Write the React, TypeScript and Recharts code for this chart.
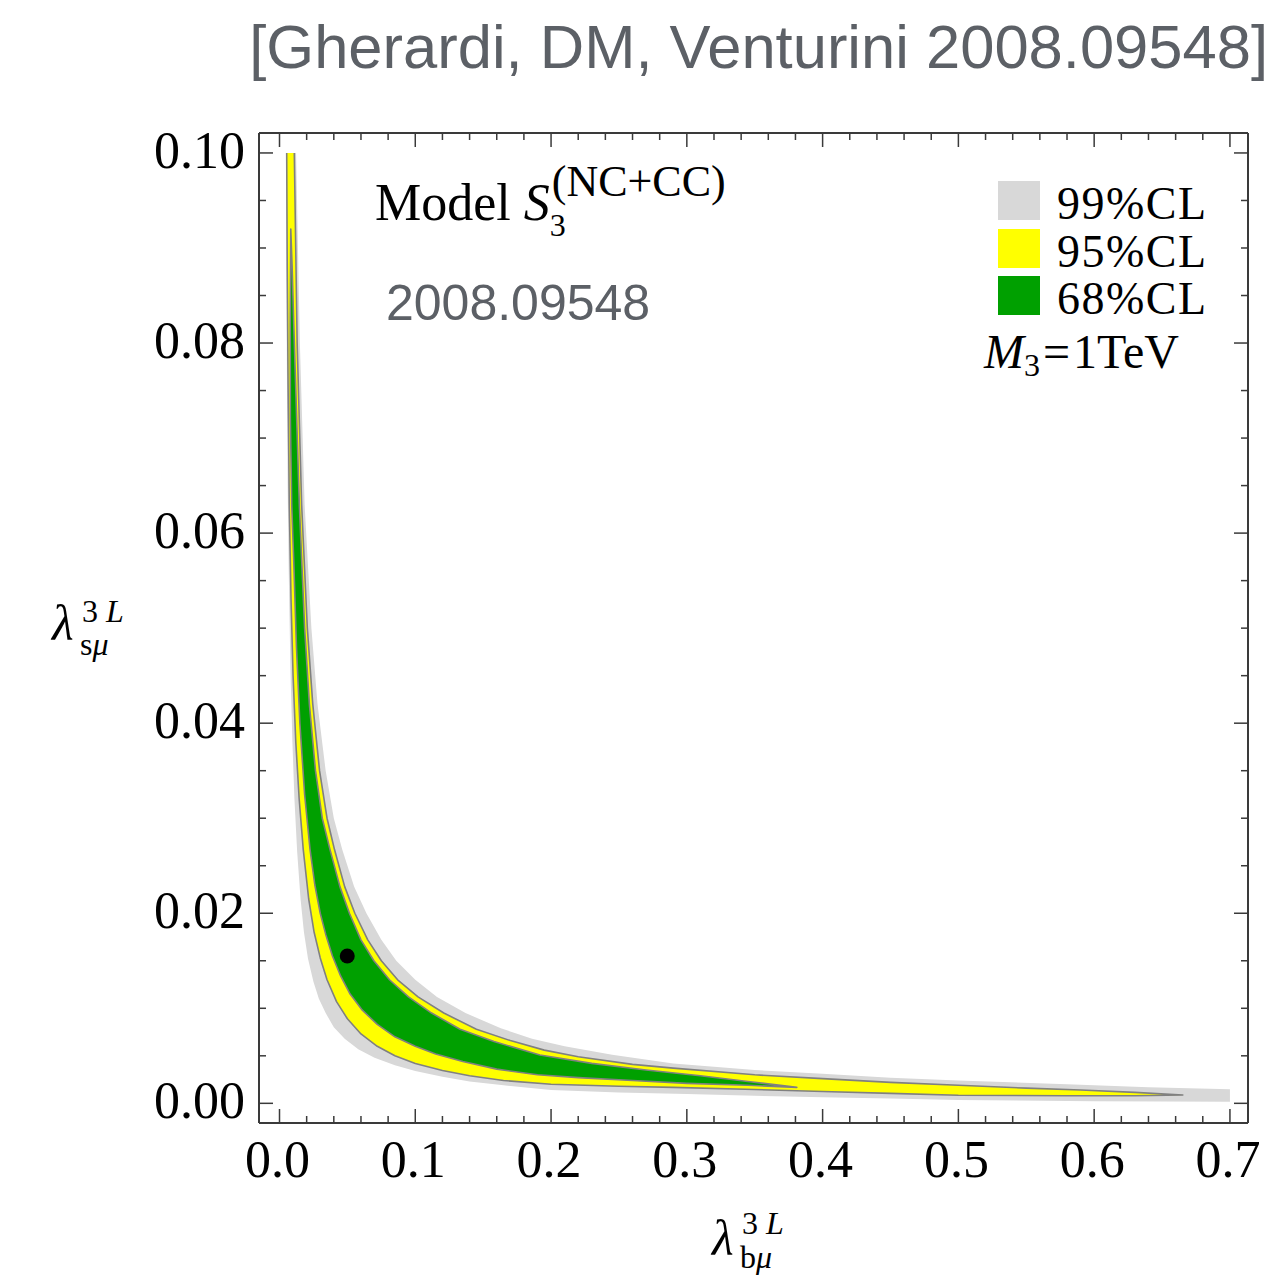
import React from "react";
import { ScatterChart, Scatter, XAxis, YAxis, Legend } from "recharts";

const SERIF = "'Liberation Serif', 'Times New Roman', serif";
const SANS = "'Liberation Sans', Arial, sans-serif";

// axis ticks
const xMajorTicks = [0, 0.1, 0.2, 0.3, 0.4, 0.5, 0.6, 0.7];
const xTicks = [
  0, 0.02, 0.04, 0.06, 0.08, 0.1, 0.12, 0.14, 0.16, 0.18, 0.2, 0.22, 0.24, 0.26, 0.28, 0.3, 0.32, 0.34,
  0.36, 0.38, 0.4, 0.42, 0.44, 0.46, 0.48, 0.5, 0.52, 0.54, 0.56, 0.58, 0.6, 0.62, 0.64, 0.66, 0.68, 0.7,
];
const yMajorTicks = [0, 0.02, 0.04, 0.06, 0.08, 0.1];
const yTicks = [
  0, 0.005, 0.01, 0.015, 0.02, 0.025, 0.03, 0.035, 0.04, 0.045, 0.05, 0.055, 0.06, 0.065, 0.07, 0.075,
  0.08, 0.085, 0.09, 0.095, 0.1,
];

// 99% CL region: outer edge (top -> right end), then inner edge (right end -> top)
const grayOuter = [
  [0.0122, 0.1], [0.015, 0.08], [0.0185, 0.063], [0.0235, 0.05], [0.028, 0.042], [0.034, 0.035],
  [0.04, 0.03], [0.0462, 0.0267], [0.055, 0.0228], [0.064, 0.02], [0.075, 0.0172], [0.086, 0.015],
  [0.1, 0.013], [0.116, 0.0112], [0.137, 0.0095], [0.163, 0.0079], [0.186, 0.0068], [0.21, 0.006],
  [0.245, 0.0051], [0.29, 0.0042], [0.35, 0.0035], [0.4, 0.0031], [0.45, 0.0027], [0.5, 0.0024],
  [0.58, 0.002], [0.64, 0.0017], [0.7, 0.00147],
];
const grayInner = [
  [0.7, 0.00017], [0.6, 0.00022], [0.5, 0.00035], [0.45, 0.0005], [0.4, 0.00065], [0.35, 0.0008],
  [0.3, 0.00098], [0.25, 0.00115], [0.2, 0.0014], [0.165, 0.0019], [0.14, 0.0023], [0.12, 0.0028],
  [0.1, 0.0034], [0.085, 0.004], [0.07, 0.0048], [0.058, 0.0057], [0.048, 0.0068], [0.04, 0.008],
  [0.034, 0.0095], [0.029, 0.011], [0.025, 0.0128], [0.021, 0.0152], [0.018, 0.018], [0.0155, 0.0215],
  [0.013, 0.0265], [0.011, 0.032], [0.0095, 0.038], [0.008, 0.046], [0.0068, 0.056], [0.006, 0.065],
  [0.0054, 0.078], [0.005, 0.09], [0.0048, 0.1],
];

// 95% CL region
const yellowOuter = [
  [0.0109, 0.1], [0.013, 0.08], [0.0163, 0.063], [0.0205, 0.05], [0.0245, 0.042], [0.0295, 0.035],
  [0.035, 0.03], [0.0405, 0.0267], [0.048, 0.0228], [0.0555, 0.02], [0.065, 0.0172], [0.075, 0.015],
  [0.087, 0.013], [0.102, 0.0112], [0.121, 0.0095], [0.145, 0.0078], [0.17, 0.0066], [0.195, 0.0056],
  [0.22, 0.0049], [0.26, 0.0041], [0.29, 0.0037], [0.35, 0.003], [0.4, 0.0026], [0.45, 0.0022],
  [0.5, 0.0019], [0.55, 0.0016], [0.59, 0.0014], [0.63, 0.00115], [0.6653, 0.00087],
];
const yellowInner = [
  [0.63, 0.0008], [0.58, 0.0008], [0.5, 0.00085], [0.45, 0.00105], [0.4, 0.00125], [0.35, 0.00145],
  [0.29, 0.00168], [0.25, 0.0018], [0.2, 0.002], [0.165, 0.0024], [0.14, 0.0029], [0.12, 0.00345],
  [0.1, 0.0042], [0.085, 0.005], [0.072, 0.006], [0.06, 0.0073], [0.05, 0.0089], [0.042, 0.0107],
  [0.035, 0.013], [0.03, 0.0153], [0.0255, 0.018], [0.0215, 0.0215], [0.0175, 0.0267], [0.0145, 0.032],
  [0.012, 0.038], [0.01, 0.045], [0.0085, 0.053], [0.0072, 0.063], [0.0063, 0.076], [0.0057, 0.088],
  [0.0053, 0.1],
];

// 68% CL region
const greenOuter = [
  [0.0083, 0.092], [0.0093, 0.088], [0.0105, 0.082], [0.0146, 0.063], [0.0185, 0.05], [0.022, 0.042],
  [0.0265, 0.035], [0.0315, 0.03], [0.0372, 0.0267], [0.0445, 0.0228], [0.0515, 0.02], [0.06, 0.0172],
  [0.0695, 0.015], [0.081, 0.013], [0.095, 0.0112], [0.112, 0.0095], [0.133, 0.0078], [0.158, 0.0065],
  [0.1918, 0.00508], [0.23, 0.0042], [0.27, 0.0035], [0.31, 0.0029], [0.345, 0.0023], [0.381, 0.00168],
];
const greenInner = [
  [0.345, 0.0019], [0.3, 0.0021], [0.26, 0.0024], [0.22, 0.0027], [0.19, 0.003], [0.16, 0.0036],
  [0.135, 0.0044], [0.115, 0.0052], [0.1, 0.006], [0.085, 0.007], [0.072, 0.0083], [0.061, 0.0098],
  [0.052, 0.0115], [0.045, 0.0134], [0.039, 0.0155], [0.034, 0.0178], [0.03, 0.02], [0.026, 0.023],
  [0.0225, 0.0267], [0.0185, 0.0325], [0.015, 0.04], [0.0125, 0.048], [0.0105, 0.057], [0.009, 0.063],
  [0.008, 0.072], [0.0079, 0.082],
];

const bestFit = [{ x: 0.0499, y: 0.0155 }];

const legendItems = [
  { label: "99%CL", color: "#d8d8d8" },
  { label: "95%CL", color: "#ffff00" },
  { label: "68%CL", color: "#00a000" },
];

const toPoints = (list: number[][]) => list.map(([x, y]) => ({ x, y }));

const grayRegion = toPoints([...grayOuter, ...grayInner]);
const yellowRegion = toPoints([...yellowOuter, ...yellowInner]);
const greenRegion = toPoints([...greenOuter, ...greenInner]);

const noDot = () => <g />;

// draws the scatter "line" as a filled region
const region = (fill: string, stroke: string, close: boolean) => (props: any) => {
  const pts = props.points || [];
  const d = pts.map((p: any, i: number) => `${i ? "L" : "M"}${p.x},${p.y}`).join("") + (close ? "Z" : "");
  return <path d={d} fill={fill} stroke={stroke} strokeWidth={1.6} strokeLinejoin="round" />;
};

const FRAME = "#3a3a3a";

const BottomTick = (props: any) => {
  const { x, y, payload } = props;
  const major = xMajorTicks.includes(payload.value);
  return (
    <g>
      <line x1={x} x2={x} y1={y} y2={y - (major ? 14 : 7)} stroke={FRAME} strokeWidth={1.5} />
      {major && (
        <text x={x - 2} y={y + 54} textAnchor="middle" fontFamily={SERIF} fontSize={52} fill="#000">
          {payload.value.toFixed(1)}
        </text>
      )}
    </g>
  );
};

const TopTick = (props: any) => {
  const { x, y, payload } = props;
  const major = xMajorTicks.includes(payload.value);
  return <line x1={x} x2={x} y1={y} y2={y + (major ? 14 : 7)} stroke={FRAME} strokeWidth={1.5} />;
};

const LeftTick = (props: any) => {
  const { x, y, payload } = props;
  const major = yMajorTicks.includes(payload.value);
  return (
    <g>
      <line x1={x} x2={x + (major ? 14 : 7)} y1={y} y2={y} stroke={FRAME} strokeWidth={1.5} />
      {major && (
        <text x={x - 14} y={y + 15} textAnchor="end" fontFamily={SERIF} fontSize={52} fill="#000">
          {payload.value.toFixed(2)}
        </text>
      )}
    </g>
  );
};

const RightTick = (props: any) => {
  const { x, y, payload } = props;
  const major = yMajorTicks.includes(payload.value);
  return <line x1={x} x2={x - (major ? 14 : 7)} y1={y} y2={y} stroke={FRAME} strokeWidth={1.5} />;
};

const renderLegend = () => (
  <div style={{ fontFamily: SERIF, color: "#000" }}>
    {legendItems.map((item) => (
      <div key={item.label} style={{ position: "relative", height: 47.5, width: 260 }}>
        <div style={{ position: "absolute", left: 0, top: 0, width: 42, height: 39, background: item.color }} />
        <div
          style={{
            position: "absolute",
            left: 59,
            top: 0,
            fontSize: 46,
            lineHeight: "46px",
            letterSpacing: 1.5,
            whiteSpace: "nowrap",
          }}
        >
          {item.label}
        </div>
      </div>
    ))}
  </div>
);

const X_DOMAIN = [-0.0151, 0.7133];
const Y_DOMAIN = [-0.00207, 0.1021];

export default function App() {
  return (
    <div style={{ position: "absolute", left: 0, top: 0, width: 1286, height: 1280, background: "#fff" }}>
      <ScatterChart width={1286} height={1280} margin={{ top: 132, right: 37, bottom: 156, left: 0 }}>
        <XAxis
          xAxisId="b"
          type="number"
          dataKey="x"
          domain={X_DOMAIN}
          allowDataOverflow
          ticks={xTicks}
          interval={0}
          tickSize={0}
          tickMargin={0}
          tickLine={false}
          tick={BottomTick}
          axisLine={{ stroke: FRAME, strokeWidth: 2 }}
          height={1}
        />
        <XAxis
          xAxisId="t"
          orientation="top"
          type="number"
          dataKey="x"
          domain={X_DOMAIN}
          allowDataOverflow
          ticks={xTicks}
          interval={0}
          tickSize={0}
          tickMargin={0}
          tickLine={false}
          tick={TopTick}
          axisLine={{ stroke: FRAME, strokeWidth: 2 }}
          height={1}
        />
        <YAxis
          yAxisId="l"
          type="number"
          dataKey="y"
          domain={Y_DOMAIN}
          allowDataOverflow
          ticks={yTicks}
          interval={0}
          tickSize={0}
          tickMargin={0}
          tickLine={false}
          tick={LeftTick}
          axisLine={{ stroke: FRAME, strokeWidth: 2 }}
          width={259}
        />
        <YAxis
          yAxisId="r"
          orientation="right"
          type="number"
          dataKey="y"
          domain={Y_DOMAIN}
          allowDataOverflow
          ticks={yTicks}
          interval={0}
          tickSize={0}
          tickMargin={0}
          tickLine={false}
          tick={RightTick}
          axisLine={{ stroke: FRAME, strokeWidth: 2 }}
          width={1}
        />

        <Scatter
          name="99%CL"
          xAxisId="b"
          yAxisId="l"
          data={grayRegion}
          fill="#d8d8d8"
          shape={noDot}
          line={region("#d8d8d8", "none", true)}
          lineType="joint"
          isAnimationActive={false}
        />
        <Scatter
          name="95%CL"
          xAxisId="b"
          yAxisId="l"
          data={yellowRegion}
          fill="#ffff00"
          shape={noDot}
          line={region("#ffff00", "#808080", false)}
          lineType="joint"
          isAnimationActive={false}
        />
        <Scatter
          name="68%CL"
          xAxisId="b"
          yAxisId="l"
          data={greenRegion}
          fill="#00a000"
          shape={noDot}
          line={region("#00a000", "#808080", true)}
          lineType="joint"
          isAnimationActive={false}
        />
        <Scatter
          name="best fit"
          xAxisId="b"
          yAxisId="l"
          data={bestFit}
          fill="#000"
          shape={(p: any) => <circle cx={p.cx} cy={p.cy} r={7.5} fill="#000" />}
          isAnimationActive={false}
        />
        {/* keeps the mirrored top/right frame axes attached to a series */}
        <Scatter
          name="frame"
          xAxisId="t"
          yAxisId="r"
          data={bestFit}
          shape={noDot}
          legendType="none"
          isAnimationActive={false}
        />

        <Legend
          content={renderLegend}
          layout="horizontal"
          verticalAlign="middle"
          align="center"
          wrapperStyle={{ left: 998, top: 181, width: 260 }}
        />

        <text x={1268} y={68} textAnchor="end" fontFamily={SANS} fontSize={61.5} fill="#5c6066">
          [Gherardi, DM, Venturini 2008.09548]
        </text>
        <text x={375} y={220} fontFamily={SERIF} fontSize={52} fill="#000">
          {"Model "}
          <tspan fontStyle="italic">S</tspan>
          <tspan fontSize={32} dy={16}>3</tspan>
          <tspan fontSize={44} dx={-14} dy={-40}>(NC+CC)</tspan>
        </text>
        <text x={386} y={320} fontFamily={SANS} fontSize={50} fill="#5c6066">
          2008.09548
        </text>
        <text x={984} y={368} fontFamily={SERIF} fontSize={48} fill="#000">
          <tspan fontStyle="italic">M</tspan>
          <tspan fontSize={32} dy={8}>3</tspan>
          <tspan dx={3} dy={-8}>=</tspan>
          <tspan dx={3}>1TeV</tspan>
        </text>

        <text x={52} y={640} fontFamily={SERIF} fontSize={50} fontStyle="italic" fill="#000">λ</text>
        <text x={82} y={622} fontFamily={SERIF} fontSize={32} fill="#000">
          {"3 "}
          <tspan fontStyle="italic">L</tspan>
        </text>
        <text x={80} y={655} fontFamily={SERIF} fontSize={32} fill="#000">
          s<tspan fontStyle="italic">μ</tspan>
        </text>

        <text x={712} y={1255} fontFamily={SERIF} fontSize={50} fontStyle="italic" fill="#000">λ</text>
        <text x={742} y={1234} fontFamily={SERIF} fontSize={32} fill="#000">
          {"3 "}
          <tspan fontStyle="italic">L</tspan>
        </text>
        <text x={740} y={1268} fontFamily={SERIF} fontSize={32} fill="#000">
          b<tspan fontStyle="italic">μ</tspan>
        </text>
      </ScatterChart>
    </div>
  );
}
